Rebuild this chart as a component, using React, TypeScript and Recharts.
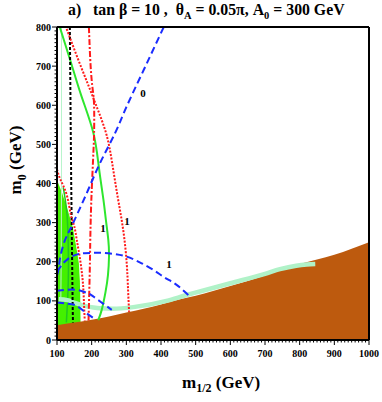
import React from "react";
import { ComposedChart, Area, Line, XAxis, YAxis, ReferenceDot } from "recharts";

const FONT = "'Liberation Serif', 'DejaVu Serif', serif";

// axis labels
const xMajor = [100, 200, 300, 400, 500, 600, 700, 800, 900, 1000];
const yMajor = [0, 100, 200, 300, 400, 500, 600, 700, 800];

// minor tick positions every 10 GeV
const xTicks: number[] = [];
for (let v = 100; v <= 1000; v += 10) xTicks.push(v);
const yTicks: number[] = [];
for (let v = 0; v <= 800; v += 10) yTicks.push(v);

// stau LSP excluded region (brown)
const stauX = [100, 150, 200, 250, 300, 350, 400, 455, 500, 600, 700, 750, 800, 900, 1000];
const stauM0 = [38, 45, 52, 60, 70, 80, 91, 104, 113, 138, 165, 180, 194, 218, 250];

// excluded region at small m1/2 (green fill)
const exclX = [100, 104, 115, 130, 145, 152, 158, 163, 166, 167, 168];
const exclM0 = [408, 400, 375, 335, 290, 256, 225, 196, 150, 110, 40];

// relic density strip (light green)
const stripX = [105, 130, 152, 170, 186, 205, 224, 260, 320, 416, 474, 512, 600, 700, 743, 790, 820, 845];
const stripM0 = [104, 102, 95, 90, 86, 83, 81, 80, 84, 100, 115, 124, 145, 169, 181, 190, 193, 194];
const thinX = [113, 113, 112, 111];
const thinM0 = [800, 400, 200, 100];

// green solid contour "1"
const g1X = [108, 140, 171, 205, 221, 234, 241, 248, 250, 247, 240, 229, 219];
const g1M0 = [800, 710, 622, 529, 440, 358, 307, 256, 213, 166, 123, 77, 51];
const g2X = [118, 128, 132, 133, 131, 127];
const g2M0 = [390, 330, 260, 180, 110, 45];

// black dashed
const blkX = [137, 139, 141, 143, 145, 146];
const blkM0 = [800, 600, 400, 250, 100, 45];

// red dash-dot
const rdX = [192, 197, 203, 207, 207, 205, 201, 198, 196, 195, 193, 191];
const rdM0 = [800, 700, 640, 600, 530, 480, 400, 330, 256, 200, 120, 50];

// red dotted, right and left
const rrX = [128, 158, 190, 218, 243, 259, 275, 291, 301, 305, 308];
const rrM0 = [795, 724, 652, 588, 524, 453, 366, 281, 197, 128, 72];
const rlX = [100, 110, 128, 140, 150, 157, 165, 172, 176, 178, 180];
const rlM0 = [436, 410, 371, 320, 290, 256, 215, 170, 130, 90, 50];

// blue dashed contours
const b0X = [408, 350, 300, 267, 224, 190, 160, 137, 123, 110, 104, 100];
const b0M0 = [800, 690, 595, 528, 452, 384, 325, 281, 255, 215, 180, 165];
const b1X = [100, 120, 142, 180, 224, 262, 301, 340, 378, 410, 445, 474, 480];
const b1M0 = [175, 198, 213, 222, 223, 220, 213, 198, 179, 160, 141, 119, 114];
const bAX = [100, 125, 157, 190, 205, 230, 258];
const bAM0 = [126, 128, 128, 119, 111, 95, 77];
const bBX = [100, 130, 155, 180, 207];
const bBM0 = [96, 93, 88, 72, 55];

// contour labels
const labels = [
  { x: 348, y: 631, text: "0" },
  { x: 302, y: 304, text: "1" },
  { x: 233, y: 286, text: "1" },
  { x: 423, y: 194, text: "1" },
];

const pts = (xs: number[], ys: number[]) => xs.map((x, i) => ({ x, y: ys[i] }));

function BottomTick(props: any) {
  const { x, y, payload } = props;
  const major = xMajor.includes(payload.value);
  return (
    <g>
      <line x1={x} y1={y} x2={x} y2={y + (major ? 5 : 2.5)} stroke="#000" strokeWidth={1} />
      {major && (
        <text x={x} y={y + 16.5} textAnchor="middle" fontSize={10} fontWeight="bold" fontFamily={FONT} fill="#000">
          {payload.value}
        </text>
      )}
    </g>
  );
}

function LeftTick(props: any) {
  const { x, y, payload } = props;
  const major = yMajor.includes(payload.value);
  return (
    <g>
      <line x1={x} y1={y} x2={x - (major ? 5 : 2.5)} y2={y} stroke="#000" strokeWidth={1} />
      {major && (
        <text x={x - 6} y={y + 3.5} textAnchor="end" fontSize={10} fontWeight="bold" fontFamily={FONT} fill="#000">
          {payload.value}
        </text>
      )}
    </g>
  );
}

function TopTick(props: any) {
  const { x, y, payload } = props;
  const major = xMajor.includes(payload.value);
  return <line x1={x} y1={y} x2={x} y2={y + (major ? 5 : 2.5)} stroke="#000" strokeWidth={1} />;
}

function RightTick(props: any) {
  const { x, y, payload } = props;
  const major = yMajor.includes(payload.value);
  return <line x1={x} y1={y} x2={x - (major ? 5 : 2.5)} y2={y} stroke="#000" strokeWidth={1} />;
}

const BLUE = "#1a2cff";
const RED = "#ff1a1a";
const GREEN = "#2ee62e";

export default function App() {
  return (
    <div style={{ position: "absolute", left: 0, top: 0, width: 382, height: 402, background: "#fff", fontFamily: FONT }}>
      <ComposedChart width={382} height={402} margin={{ top: 17, right: 3, left: 7, bottom: 32 }}>
        <XAxis
          dataKey="x"
          type="number"
          domain={[100, 1000]}
          ticks={xTicks}
          interval={0}
          allowDataOverflow
          height={30}
          tickSize={0}
          tickMargin={0}
          tick={<BottomTick />}
          tickLine={false}
          axisLine={{ stroke: "#000", strokeWidth: 2 }}
        />
        <XAxis
          xAxisId="top"
          orientation="top"
          type="number"
          domain={[100, 1000]}
          ticks={xTicks}
          interval={0}
          height={10}
          tickSize={0}
          tickMargin={0}
          tick={<TopTick />}
          tickLine={false}
          axisLine={{ stroke: "#000", strokeWidth: 2 }}
        />
        <YAxis
          type="number"
          domain={[0, 800]}
          ticks={yTicks}
          interval={0}
          allowDataOverflow
          width={50}
          tickSize={0}
          tickMargin={0}
          tick={<LeftTick />}
          tickLine={false}
          axisLine={{ stroke: "#000", strokeWidth: 2 }}
        />
        <YAxis
          yAxisId="right"
          orientation="right"
          type="number"
          domain={[0, 800]}
          ticks={yTicks}
          interval={0}
          width={10}
          tickSize={0}
          tickMargin={0}
          tick={<RightTick />}
          tickLine={false}
          axisLine={{ stroke: "#000", strokeWidth: 2 }}
        />

        <Area data={pts(exclX, exclM0)} dataKey="y" type="linear" fill="#44f000" fillOpacity={1} stroke="none" isAnimationActive={false} />
        <Line data={pts(g2X, g2M0)} dataKey="y" type="natural" stroke="#20c820" strokeWidth={1.5} dot={false} isAnimationActive={false} />
        <Line data={pts(thinX, thinM0)} dataKey="y" type="linear" stroke="#b8f5cc" strokeWidth={1} dot={false} isAnimationActive={false} />
        <Line data={pts(stripX, stripM0)} dataKey="y" type="monotone" stroke="#b0f2c8" strokeWidth={4.5} dot={false} isAnimationActive={false} />
        <Area data={pts(stauX, stauM0)} dataKey="y" type="monotone" fill="#bd5a0e" fillOpacity={1} stroke="none" isAnimationActive={false} />

        <Line data={pts(g1X, g1M0)} dataKey="y" type="natural" stroke={GREEN} strokeWidth={2} dot={false} isAnimationActive={false} />
        <Line data={pts(blkX, blkM0)} dataKey="y" type="linear" stroke="#000" strokeWidth={2} strokeDasharray="3 2" dot={false} isAnimationActive={false} />
        <Line data={pts(rdX, rdM0)} dataKey="y" type="natural" stroke={RED} strokeWidth={2} strokeDasharray="6 2 2 2" dot={false} isAnimationActive={false} />
        <Line data={pts(rrX, rrM0)} dataKey="y" type="natural" stroke={RED} strokeWidth={2} strokeDasharray="2 1.5" dot={false} isAnimationActive={false} />
        <Line data={pts(rlX, rlM0)} dataKey="y" type="natural" stroke={RED} strokeWidth={2} strokeDasharray="2 1.5" dot={false} isAnimationActive={false} />
        <Line data={pts(b0X, b0M0)} dataKey="y" type="natural" stroke={BLUE} strokeWidth={2} strokeDasharray="7 4" dot={false} isAnimationActive={false} />
        <Line data={pts(b1X, b1M0)} dataKey="y" type="monotone" stroke={BLUE} strokeWidth={2} strokeDasharray="7 4" dot={false} isAnimationActive={false} />
        <Line data={pts(bAX, bAM0)} dataKey="y" type="natural" stroke={BLUE} strokeWidth={2} strokeDasharray="7 4" dot={false} isAnimationActive={false} />
        <Line data={pts(bBX, bBM0)} dataKey="y" type="natural" stroke={BLUE} strokeWidth={2} strokeDasharray="7 4" dot={false} isAnimationActive={false} />

        {labels.map((l, i) => (
          <ReferenceDot
            key={i}
            x={l.x}
            y={l.y}
            r={0}
            fill="none"
            stroke="none"
            label={{ value: l.text, position: "center", fill: "#000", fontSize: 11, fontWeight: "bold", fontFamily: FONT }}
          />
        ))}
      </ComposedChart>

      <div style={{ position: "absolute", left: 68, top: 1, fontSize: 15.8, fontWeight: "bold", whiteSpace: "pre", color: "#000" }}>
        {"a)   tan β = 10 ,  θ"}
        <sub style={{ fontSize: 10.5 }}>A</sub>
        {" = 0.05π, A"}
        <sub style={{ fontSize: 10.5 }}>0</sub>
        {" = 300 GeV"}
      </div>
      <div
        style={{
          position: "absolute",
          left: 18,
          top: 160,
          transform: "translate(-50%, -50%) rotate(-90deg)",
          fontSize: 17,
          fontWeight: "bold",
          whiteSpace: "pre",
          color: "#000",
        }}
      >
        m<sub style={{ fontSize: 12 }}>0</sub> (GeV)
      </div>
      <div style={{ position: "absolute", left: 182, top: 373, fontSize: 17, fontWeight: "bold", whiteSpace: "pre", color: "#000" }}>
        m<sub style={{ fontSize: 12 }}>1/2</sub> (GeV)
      </div>
    </div>
  );
}
